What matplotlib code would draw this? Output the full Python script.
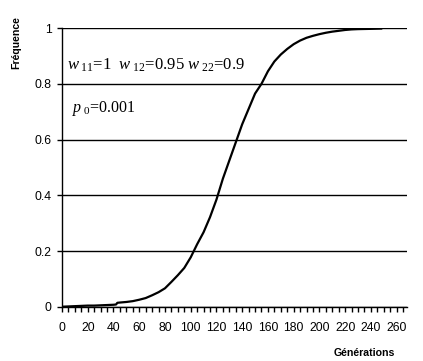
import matplotlib.pyplot as plt
from matplotlib.ticker import MultipleLocator

# données
generations = [0, 5, 10, 15, 20, 25, 30, 35, 40, 42, 43, 45, 50, 55, 60, 65, 70,
               75, 80, 85, 90, 95, 100, 105, 110, 115, 120, 125, 130, 135, 140,
               145, 150, 155, 160, 165, 170, 175, 180, 185, 190, 195, 200, 205,
               210, 215, 220, 225, 230, 240, 248]
frequence = [0.001, 0.002, 0.003, 0.004, 0.005, 0.005, 0.006, 0.007, 0.008,
             0.009, 0.015, 0.016, 0.018, 0.021, 0.026, 0.032, 0.042, 0.053,
             0.067, 0.090, 0.114, 0.140, 0.178, 0.225, 0.268, 0.322, 0.385,
             0.46, 0.525, 0.59, 0.655, 0.71, 0.765, 0.80, 0.845, 0.88, 0.905,
             0.925, 0.942, 0.955, 0.965, 0.972, 0.978, 0.983, 0.987, 0.990,
             0.993, 0.995, 0.996, 0.997, 0.998]

plt.rcParams['font.family'] = 'Liberation Sans'
plt.rcParams['mathtext.fontset'] = 'custom'
plt.rcParams['mathtext.rm'] = 'Liberation Serif'
plt.rcParams['mathtext.it'] = 'Liberation Serif:italic'

fig = plt.figure(figsize=(4.23, 3.61), dpi=100)
ax = fig.add_axes([0.1466, 0.1496, 0.8154, 0.7728])

ax.plot(generations, frequence, color='black', lw=1.6)

ax.set_xlim(0, 268)
ax.set_ylim(0, 1)
ax.xaxis.set_major_locator(MultipleLocator(20))
ax.xaxis.set_minor_locator(MultipleLocator(5))
ax.set_yticks([0, 0.2, 0.4, 0.6, 0.8, 1.0])
ax.set_yticklabels(['0', '0.2', '0.4', '0.6', '0.8', '1'])
ax.tick_params(axis='both', which='both', direction='out', length=3.5,
               width=1, color='black', labelsize=8.8, pad=4)
ax.tick_params(axis='x', which='major', pad=7)

ax.grid(axis='y', color='black', lw=1)
for s in ['top', 'right']:
    ax.spines[s].set_visible(False)
ax.spines['left'].set_linewidth(1)
ax.spines['bottom'].set_linewidth(1)

ax.text(0.014, 0.865, r'$w_{\ 11}$=1  $w_{\ 12}$=0.95 $w_{\ 22}$=0.9',
        transform=ax.transAxes, fontsize=12, family='Liberation Serif',
        va='center')
ax.text(0.03, 0.71, r'$p_{\ 0}$=0.001', transform=ax.transAxes,
        fontsize=11.5, family='Liberation Serif', va='center')

fig.text(16 / 423, 1 - 43 / 361, 'Fréquence', rotation=90, fontsize=7.6,
         fontweight='bold', ha='center', va='center')
fig.text(364 / 423, 1 - 353 / 361, 'Générations', fontsize=7.6,
         fontweight='bold', ha='center', va='center')

fig.savefig('out.png', dpi=100)
